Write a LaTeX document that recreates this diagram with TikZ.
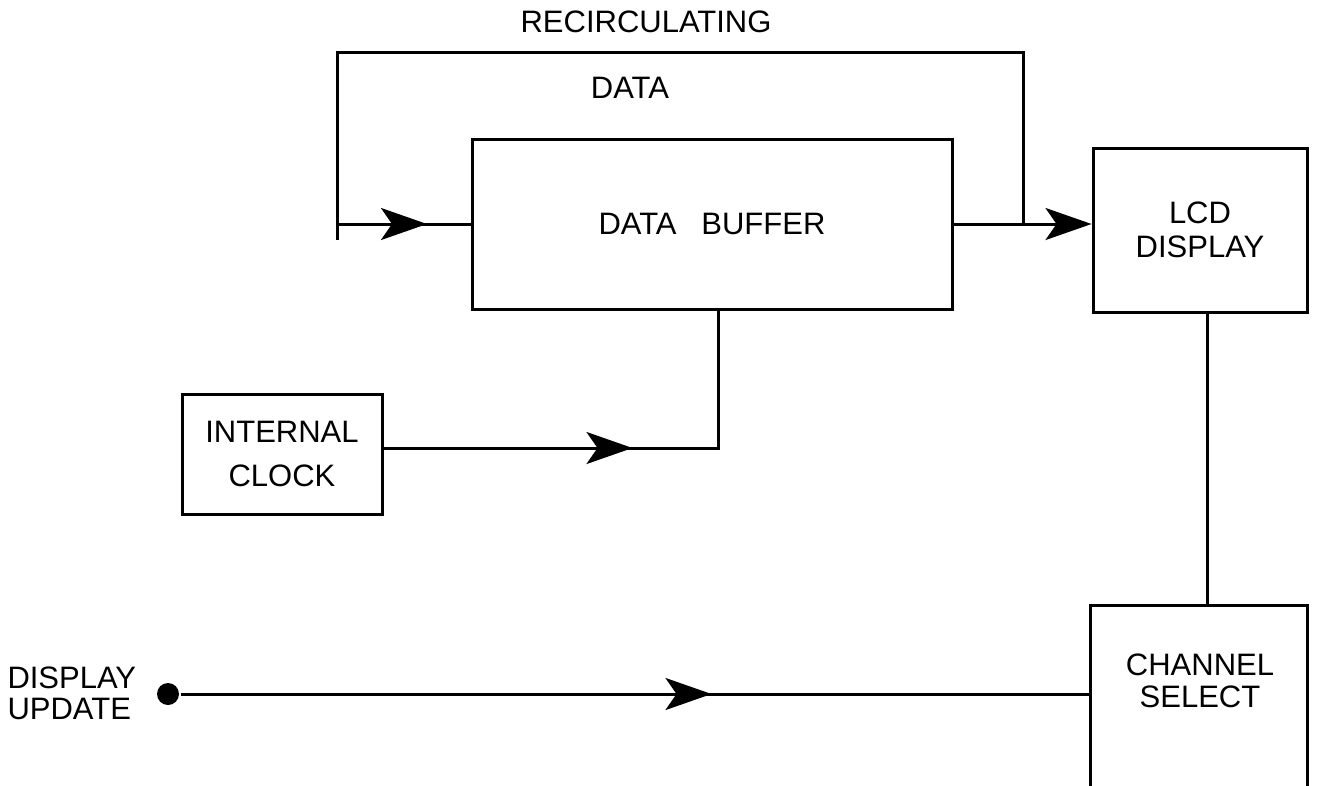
\documentclass[tikz,border=0pt]{standalone}
\usepackage{fontspec}
\setmainfont{Liberation Sans}
\usetikzlibrary{arrows.meta,decorations.markings}
\begin{document}
\begin{tikzpicture}[x=1pt,y=-1pt, line width=3pt,
  >={Stealth[length=46pt,width=32pt,inset=11pt]},
  blk/.style={draw, line width=3pt, inner sep=0pt, align=center, font=\fontsize{31}{34}\selectfont},
  lbl/.style={inner sep=0pt, align=center, font=\fontsize{31}{34}\selectfont},
  midarrow/.style={postaction={decorate}, decoration={markings, mark=at position #1 with {\arrow{>}}}}
]
\useasboundingbox (0,0) rectangle (1320,785);

% blocks
\node[blk, minimum width=480, minimum height=170] (buf) at (712,224) {DATA\hspace{0.8em}BUFFER};
\node[blk, minimum width=214, minimum height=164] (lcd) at (1200,230) {LCD\\DISPLAY};
\node[blk, minimum width=200, minimum height=120, font=\fontsize{31}{44}\selectfont] (clk) at (282,454) {INTERNAL\\CLOCK};
\node[minimum width=214, minimum height=190, inner sep=0pt] (cs) at (1199,702) {};
\draw (cs.south west) -- (cs.north west) -- (cs.north east) -- (cs.south east);
\node[lbl, font=\fontsize{31}{32}\selectfont] (cslbl) at (1200,681) {CHANNEL\\SELECT};

% labels
\node[lbl] (recirc) at (646,22) {RECIRCULATING};
\node[lbl] (data) at (630,88) {DATA};
\node[lbl, align=left, anchor=west, font=\fontsize{31}{31}\selectfont] (upd) at (6,693) {DISPLAY\\UPDATE};

% recirculating loop
\coordinate (j) at (1023,224);
\coordinate (tl) at (337,52);
\coordinate (lb) at (337,240);
\coordinate (li) at (337,224);
\draw[->] (buf.east) -- (buf.east -| lcd.west);
\draw (j) |- (tl) -- (lb);
\draw[midarrow=90pt] (li) -- (buf.west);

% clock
\draw[midarrow=249pt] ([yshift=6pt]clk.east) -| ([xshift=6pt]buf.south);

% LCD to channel select
\draw ([xshift=7pt]lcd.south) -- ([xshift=7pt]lcd.south |- cs.north);

% display update
\node[circle, fill, inner sep=0pt, minimum size=22pt] (dot) at (168,694) {};
\draw[midarrow=531pt] (dot) -- (dot -| cs.west);
\end{tikzpicture}
\end{document}
